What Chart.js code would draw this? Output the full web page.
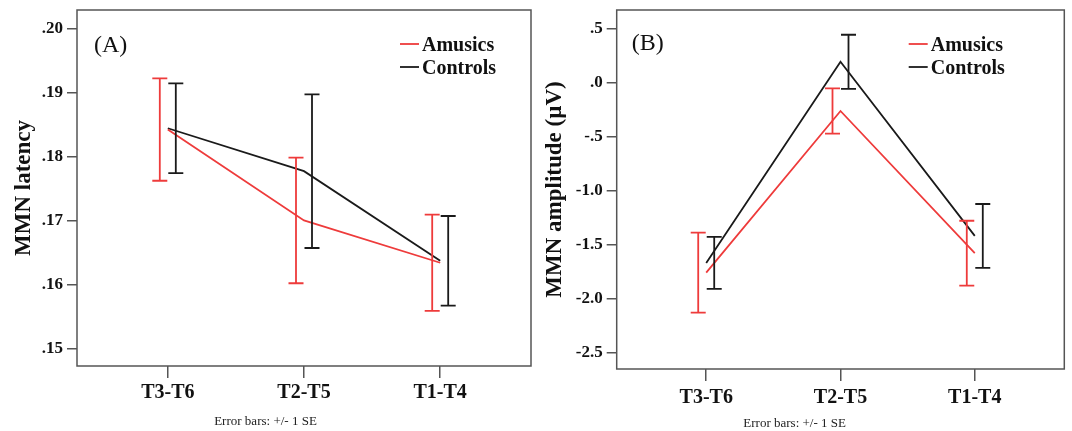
<!DOCTYPE html>
<html>
<head>
<meta charset="utf-8">
<script src="https://cdn.jsdelivr.net/npm/chart.js@4.4.1/dist/chart.umd.min.js"></script>
<style>
html, body { margin: 0; padding: 0; background: #fff; }
#wrap { position: relative; width: 1072px; height: 431px; overflow: hidden; }
.panel { position: absolute; top: 0; }
#chartA { left: 0; }
#chartB { left: 525px; }
</style>
</head>
<body>
<div id="wrap">
  <canvas id="chartA" class="panel" width="536" height="431"></canvas>
  <canvas id="chartB" class="panel" width="547" height="431"></canvas>
</div>
<script>
// conditions on the x axis
const conditions = ['T3-T6', 'T2-T5', 'T1-T4'];

// (A) MMN latency, means and +/- 1 SE
const latencyAmusics = [0.1842, 0.1700, 0.1634];
const latencyAmusicsSE = [0.0080, 0.0098, 0.0075];
const latencyControls = [0.1844, 0.1777, 0.1637];
const latencyControlsSE = [0.0070, 0.0120, 0.0070];
const latencyTicks = [0.15, 0.16, 0.17, 0.18, 0.19, 0.20];

// (B) MMN amplitude, means and +/- 1 SE
const amplitudeAmusics = [-1.76, -0.265, -1.58];
const amplitudeAmusicsSE = [0.37, 0.21, 0.30];
const amplitudeControls = [-1.67, 0.19, -1.42];
const amplitudeControlsSE = [0.24, 0.25, 0.295];
const amplitudeTicks = [-2.5, -2.0, -1.5, -1.0, -0.5, 0, 0.5];

const RED = '#ee3b3b';
const BLACK = '#1a1a1a';
const AXIS = '#555555';
const SERIF = 'Liberation Serif';
const NOTE_SIZE = 13;

const toPoints = arr => arr.map((v, i) => ({x: i + 1, y: v}));

// error bars, shifted sideways from the category like SPSS does
const errorBars = {
  id: 'errorBars',
  afterDatasetsDraw(chart) {
    const ctx = chart.ctx;
    const xs = chart.scales.x, ys = chart.scales.y;
    chart.data.datasets.forEach(ds => {
      ctx.save();
      ctx.strokeStyle = ds.borderColor;
      ctx.lineWidth = 1.8;
      ds.data.forEach((pt, i) => {
        const px = xs.getPixelForValue(pt.x) + ds.errorShift;
        const top = ys.getPixelForValue(pt.y + ds.errors[i]);
        const bot = ys.getPixelForValue(pt.y - ds.errors[i]);
        ctx.beginPath();
        ctx.moveTo(px, top); ctx.lineTo(px, bot);
        ctx.moveTo(px - 7.5, top); ctx.lineTo(px + 7.5, top);
        ctx.moveTo(px - 7.5, bot); ctx.lineTo(px + 7.5, bot);
        ctx.stroke();
      });
      ctx.restore();
    });
  }
};

// box around plot, panel letter and the legend inside the plot
const frame = {
  id: 'frame',
  afterDraw(chart, args, opts) {
    const ctx = chart.ctx, a = chart.chartArea;
    ctx.save();
    ctx.strokeStyle = AXIS;
    ctx.lineWidth = 1.5;
    ctx.strokeRect(a.left, a.top, a.right - a.left, a.bottom - a.top);

    ctx.fillStyle = '#111';
    ctx.textAlign = 'left';
    ctx.textBaseline = 'middle';
    ctx.font = '24px ' + SERIF;
    ctx.fillText(opts.letter, a.left + opts.letterDx, opts.letterY);

    ctx.font = 'bold 20px ' + SERIF;
    chart.data.datasets.forEach((ds, i) => {
      const yy = opts.legendY + i * 23;
      const lx = a.left + opts.legendDx;
      ctx.strokeStyle = ds.borderColor;
      ctx.lineWidth = 1.8;
      ctx.beginPath();
      ctx.moveTo(lx, yy);
      ctx.lineTo(lx + 19, yy);
      ctx.stroke();
      ctx.fillText(ds.label, lx + 22, yy + 1.5);
    });
    ctx.restore();
  }
};

function makeChart(id, p) {
  // room left for the x axis once the note under it is placed
  const noteH = NOTE_SIZE * 1.2 + p.notePadTop + p.notePadBottom;
  const xHeight = 431 - noteH - p.plotBottom;
  return new Chart(document.getElementById(id), {
    type: 'line',
    data: {
      datasets: [
        {label: 'Amusics', data: toPoints(p.amusics), errors: p.amusicsSE, errorShift: -8,
         borderColor: RED, borderWidth: 1.8, pointRadius: 0, tension: 0},
        {label: 'Controls', data: toPoints(p.controls), errors: p.controlsSE, errorShift: 8,
         borderColor: BLACK, borderWidth: 1.8, pointRadius: 0, tension: 0}
      ]
    },
    options: {
      responsive: false,
      animation: false,
      layout: {padding: {top: 10, right: p.padRight, left: 0, bottom: 0}},
      plugins: {
        legend: {display: false},
        tooltip: {enabled: false},
        title: {
          display: true,
          position: 'bottom',
          text: 'Error bars: +/- 1 SE',
          color: '#222',
          font: {family: SERIF, size: NOTE_SIZE, weight: 'normal', lineHeight: 1.2},
          padding: {top: p.notePadTop, bottom: p.notePadBottom}
        },
        frame: {letter: p.letter, letterDx: p.letterDx, letterY: p.letterY,
                legendDx: p.legendDx, legendY: 44}
      },
      scales: {
        x: {
          type: 'linear',
          min: 1 / 3,
          max: 11 / 3,
          afterBuildTicks: axis => { axis.ticks = conditions.map((c, i) => ({value: i + 1})); },
          afterFit: axis => { axis.height = xHeight; axis.paddingLeft = 0; axis.paddingRight = 0; },
          grid: {drawOnChartArea: false, color: AXIS, lineWidth: 1.5, tickLength: 12},
          border: {display: false},
          ticks: {
            padding: p.xLabelPad,
            color: '#111',
            font: {family: SERIF, size: 20, weight: 'bold'},
            callback: v => conditions[v - 1]
          }
        },
        y: {
          min: p.yMin,
          max: p.yMax,
          afterBuildTicks: axis => { axis.ticks = p.yTicks.map(v => ({value: v})); },
          afterFit: axis => { axis.width = p.yWidth; axis.paddingTop = 0; axis.paddingBottom = 0; },
          grid: {drawOnChartArea: false, color: AXIS, lineWidth: 1.5, tickLength: 10},
          border: {display: false},
          title: {
            display: true,
            text: p.yTitle,
            color: '#111',
            font: {family: SERIF, size: 23, weight: 'bold'},
            padding: {top: p.yTitlePad, bottom: 0}
          },
          ticks: {
            padding: 4,
            color: '#111',
            font: {family: SERIF, size: 17, weight: 'bold'},
            callback: v => v.toFixed(p.decimals).replace(/^(-?)0\./, '$1.')
          }
        }
      }
    },
    plugins: [errorBars, frame]
  });
}

makeChart('chartA', {
  amusics: latencyAmusics, amusicsSE: latencyAmusicsSE,
  controls: latencyControls, controlsSE: latencyControlsSE,
  yTicks: latencyTicks, yMin: 0.14728, yMax: 0.20286, decimals: 2,
  yTitle: 'MMN latency', yTitlePad: 10, yWidth: 77, padRight: 5,
  plotBottom: 366, notePadTop: 7, notePadBottom: 2, xLabelPad: 3,
  letter: '(A)', letterDx: 17, letterY: 46, legendDx: 323
});

makeChart('chartB', {
  amusics: amplitudeAmusics, amusicsSE: amplitudeAmusicsSE,
  controls: amplitudeControls, controlsSE: amplitudeControlsSE,
  yTicks: amplitudeTicks, yMin: -2.651, yMax: 0.669, decimals: 1,
  yTitle: 'MMN amplitude (\u00b5V)', yTitlePad: 16, yWidth: 91.7, padRight: 7.7,
  plotBottom: 369, notePadTop: 10, notePadBottom: 0, xLabelPad: 5,
  letter: '(B)', letterDx: 15, letterY: 44, legendDx: 292
});
</script>
</body>
</html>
